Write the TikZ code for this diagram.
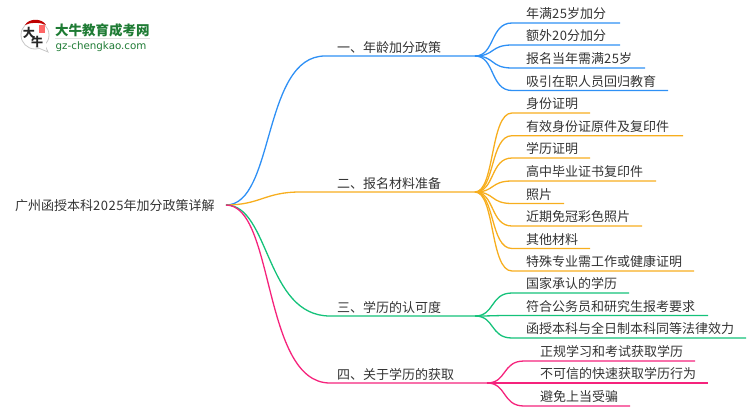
\documentclass[tikz,border=0pt]{standalone}
\usepackage{fontspec}
\setmainfont{Noto Sans CJK SC}
\newfontfamily\urlfont{DejaVu Sans}
\newcommand{\digs}[1]{{\addfontfeature{LetterSpace=4.2}#1}}
\definecolor{textgray}{HTML}{333333}
\definecolor{blueline}{HTML}{2E90F5}
\definecolor{orangeline}{HTML}{F7AE1E}
\definecolor{greenline}{HTML}{14C27A}
\definecolor{pinkline}{HTML}{F5237C}
\definecolor{logogreen}{HTML}{1E7B34}
\tikzset{
    branch/.style={line width=1.3pt},
    label/.style={anchor=base west, inner sep=0pt, text=textgray, font=\fontsize{13}{13}\selectfont},
    logochar/.style={inner sep=0pt, text=black!85, font=\fontsize{12}{12}\selectfont\bfseries},
}
\begin{document}
\begin{tikzpicture}[x=1pt,y=-1pt]
    \useasboundingbox (0,0) rectangle (750,410);

    % logo
    \fill[white, draw=black!22, line width=0.8pt] (35,35) circle [radius=14];
    \fill[white, draw=black!22, line width=0.8pt] (36,47) -- (48,52) -- (44,43) -- cycle;
    \fill[white] (35,45) -- (46,50) -- (46,40) -- cycle;
    \fill[red!75!black] (25,25) .. controls (29,18) and (42,18) .. (46,25) .. controls (40,22) and (31,22) .. (25,25) -- cycle;
    \fill[red!60!white] (39,25) rectangle (44.5,33);
    \node[logochar] (logoda) at (29,33) {大};
    \node[logochar] (logoniu) at (37,42) {牛};
    \node[anchor=base west, inner sep=0pt, text=logogreen, font=\fontsize{13.5}{13.5}\selectfont\bfseries] (logotitle) at (55,35) {大牛教育成考网};
    \draw[black!12, line width=0.8pt] (55,38.5) -- (150,38.5);
    \node[anchor=base west, inner sep=0pt, text=logogreen, font=\urlfont\fontsize{10.3}{10.3}\selectfont] (logourl) at (55.5,49) {gz-chengkao.com};

    % root
    \node[label] (root) at (15,210) {广州函授本科\digs{2025}年加分政策详解};
    \coordinate (rootend) at (226,205);

    % branch ends
    \coordinate (b1) at (475,56);
    \coordinate (b2) at (475,192);
    \coordinate (b3) at (475,316);
    \coordinate (b4) at (487,383);

    \draw[branch, blueline] (rootend) .. controls (275,205) and (262,56) .. (325,56) -- (b1);
    \draw[branch, orangeline] (rootend) .. controls (260,205) and (265,192) .. (300,192) -- (b2);
    \draw[branch, greenline] (rootend) .. controls (270,205) and (265,316) .. (330,316) -- (b3);
    \draw[branch, pinkline] (rootend) .. controls (275,205) and (262,383) .. (330,383) -- (b4);

    \node[label] (m1) at (337,52) {一、年龄加分政策};
    \node[label] (m2) at (337,188) {二、报名材料准备};
    \node[label] (m3) at (337,312) {三、学历的认可度};
    \node[label] (m4) at (337,379) {四、关于学历的获取};

    % leaves: y, line end, text
    \foreach \y/\xend/\txt in {
        23/620/年满\digs{25}岁加分,
        45/620/额外\digs{20}分加分,
        68/645/报名当年需满\digs{25}岁,
        90.5/668/吸引在职人员回归教育}{
        \draw[branch, blueline] (b1) .. controls (495,56) and (490,\y) .. (512,\y) -- (\xend,\y);
        \node[label] at (526,\y-4.5) {\txt};
    }
    \foreach \y/\xend/\txt in {
        113/590/身份证明,
        135.7/683/有效身份证原件及复印件,
        158/590/学历证明,
        181/656/高中毕业证书复印件,
        203.5/564/照片,
        226/642/近期免冠彩色照片,
        248.5/590/其他材料,
        271/694/特殊专业需工作或健康证明}{
        \draw[branch, orangeline] (b2) .. controls (495,192) and (490,\y) .. (512,\y) -- (\xend,\y);
        \node[label] at (526,\y-4.5) {\txt};
    }
    \foreach \y/\xend/\txt in {
        293/629/国家承认的学历,
        315.5/708/符合公务员和研究生报考要求,
        338/746/函授本科与全日制本科同等法律效力}{
        \draw[branch, greenline] (b3) .. controls (495,316) and (490,\y) .. (512,\y) -- (\xend,\y);
        \node[label] at (526,\y-4.5) {\txt};
    }
    \foreach \y/\xend/\txt in {
        361/695/正规学习和考试获取学历,
        383/708/不可信的快速获取学历行为,
        406/630/避免上当受骗}{
        \draw[branch, pinkline] (b4) .. controls (507,383) and (502,\y) .. (524,\y) -- (\xend,\y);
        \node[label] at (540,\y-4.5) {\txt};
    }
\end{tikzpicture}
\end{document}
